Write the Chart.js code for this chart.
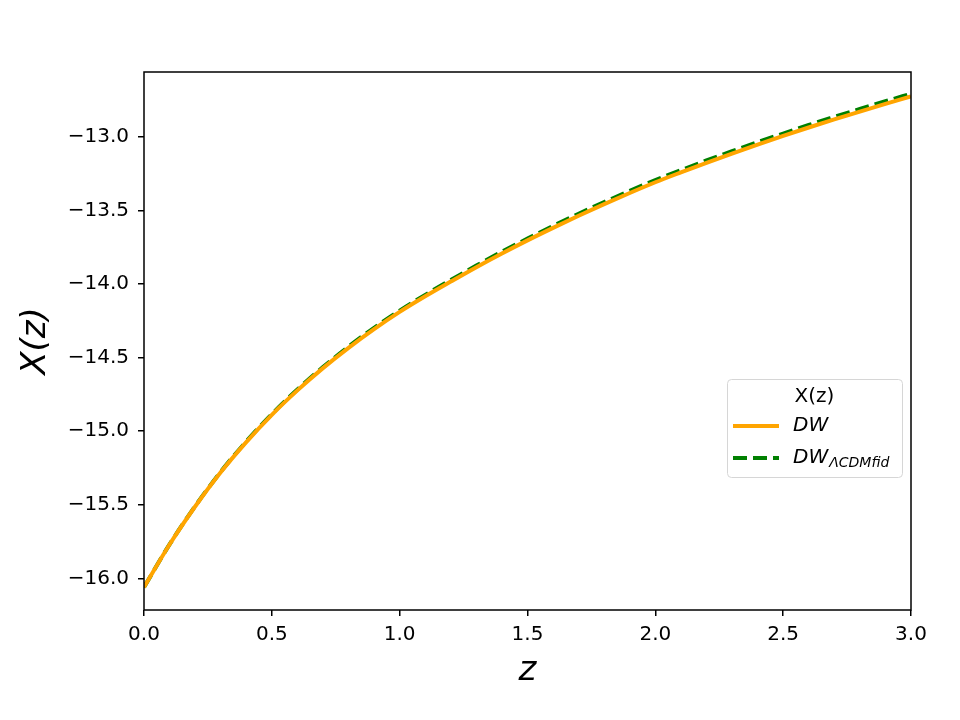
<!DOCTYPE html>
<html>
<head>
<meta charset="utf-8">
<script src="https://cdn.jsdelivr.net/npm/chart.js@4.4.0/dist/chart.umd.min.js"></script>
<style>
  html, body { margin:0; padding:0; background:#fff; }
  #wrap { width:960px; height:720px; }
</style>
</head>
<body>
<div id="wrap"><canvas id="chartX" width="960" height="720"></canvas></div>
<script>
// valores
const zVals = [0.0,0.1,0.2,0.3,0.4,0.5,0.6,0.7,0.8,0.9,1.0,1.1,1.2,1.3,1.4,1.5,
  1.6,1.7,1.8,1.9,2.0,2.1,2.2,2.3,2.4,2.5,2.6,2.7,2.8,2.9,3.0];
const xDW = [-16.060,-15.770,-15.512,-15.279,-15.074,-14.889,-14.723,-14.572,-14.434,-14.307,
  -14.190,-14.084,-13.984,-13.886,-13.793,-13.704,-13.619,-13.537,-13.458,-13.382,-13.309,
  -13.242,-13.177,-13.114,-13.053,-12.994,-12.937,-12.882,-12.829,-12.777,-12.726];
const xFid = [-16.060,-15.769,-15.510,-15.276,-15.070,-14.884,-14.717,-14.565,-14.426,-14.298,
  -14.181,-14.074,-13.973,-13.875,-13.781,-13.692,-13.606,-13.523,-13.444,-13.367,-13.295,
  -13.227,-13.161,-13.098,-13.037,-12.978,-12.920,-12.865,-12.811,-12.759,-12.708];
const xTicks = [0.0,0.5,1.0,1.5,2.0,2.5,3.0];
const yTicks = [-16.0,-15.5,-15.0,-14.5,-14.0,-13.5,-13.0];
const seriesNames = ["DW", "DW_fid"];
const legendTitle = "X(z)";

const FONT = "'DejaVu Sans', sans-serif";

function fmt(v){
  const s = Math.abs(v).toFixed(1);
  return v < 0 ? "\u2212" + s : s;
}

// marco completo del area
const framePlugin = {
  id:"frame",
  afterDatasetsDraw(chart){
    const {ctx, chartArea:a} = chart;
    ctx.save();
    ctx.strokeStyle = "#000";
    ctx.lineWidth = 1.5;
    ctx.strokeRect(a.left, a.top, a.right-a.left, a.bottom-a.top);
    ctx.restore();
  }
};

// leyenda estilo matplotlib dentro del grafico
const legendPlugin = {
  id:"mplLegend",
  afterDraw(chart){
    const ctx = chart.ctx;
    const bx = 727, by = 379, bw = 175, bh = 98;
    ctx.save();
    ctx.fillStyle = "rgba(255,255,255,0.8)";
    ctx.strokeStyle = "#d6d6d6";
    ctx.lineWidth = 1;
    ctx.beginPath();
    ctx.roundRect(bx+0.5, by+0.5, bw, bh, 4);
    ctx.fill();
    ctx.stroke();

    ctx.fillStyle = "#000";
    ctx.textBaseline = "middle";
    ctx.textAlign = "center";
    ctx.font = "20px " + FONT;
    ctx.fillText(legendTitle, bx + bw/2, 397);

    const rows = [426, 458];
    chart.data.datasets.forEach((ds, i)=>{
      const y = rows[i];
      ctx.strokeStyle = ds.borderColor;
      ctx.lineWidth = ds.borderWidth;
      ctx.setLineDash(ds.borderDash || []);
      ctx.beginPath();
      ctx.moveTo(733, y);
      ctx.lineTo(779, y);
      ctx.stroke();
      ctx.setLineDash([]);
      ctx.textAlign = "left";
      ctx.fillStyle = "#000";
      ctx.font = "italic 20px " + FONT;
      ctx.fillText("DW", 793, y);
      if(i === 1){
        const w = ctx.measureText("DW").width;
        ctx.font = "italic 14px " + FONT;
        ctx.fillText("\u039BCDMfid", 793 + w + 1, y + 5);
      }
    });
    ctx.restore();
  }
};

const ctx = document.getElementById("chartX").getContext("2d");
new Chart(ctx, {
  type:"line",
  data:{
    datasets:[
      {
        label: seriesNames[0],
        data: zVals.map((z,i)=>({x:z, y:xDW[i]})),
        borderColor:"#FFA500",
        borderWidth:4,
        pointRadius:0,
        cubicInterpolationMode:"monotone",
        fill:false
      },
      {
        label: seriesNames[1],
        data: zVals.map((z,i)=>({x:z, y:xFid[i]})),
        borderColor:"#008000",
        borderWidth:4,
        borderDash:[14,6],
        pointRadius:0,
        cubicInterpolationMode:"monotone",
        fill:false
      }
    ]
  },
  options:{
    responsive:false,
    animation:false,
    layout:{ padding:{ top:72, right:49, left:0, bottom:0 } },
    plugins:{
      legend:{ display:false },
      tooltip:{ enabled:false }
    },
    scales:{
      x:{
        type:"linear",
        min:0, max:3,
        afterFit(s){ s.height = 110; },
        afterBuildTicks(s){ s.ticks = xTicks.map(v=>({value:v})); },
        border:{ display:false },
        grid:{ drawOnChartArea:false, drawTicks:true, tickLength:6, color:"#000", lineWidth:1.5 },
        ticks:{ color:"#000", font:{ family:FONT, size:20 }, padding:7, maxRotation:0,
          callback:(v)=>fmt(v) },
        title:{ display:true, text:"z", color:"#000",
          font:{ family:FONT, size:34, style:"italic" }, padding:{ top:0, bottom:28 } }
      },
      y:{
        type:"linear",
        min:-16.215, max:-12.56,
        afterFit(s){ s.width = 144; },
        afterBuildTicks(s){ s.ticks = yTicks.map(v=>({value:v})); },
        border:{ display:false },
        grid:{ drawOnChartArea:false, drawTicks:true, tickLength:6, color:"#000", lineWidth:1.5 },
        ticks:{ color:"#000", font:{ family:FONT, size:20 }, padding:9,
          callback:(v)=>fmt(v) },
        title:{ display:true, text:"X(z)", color:"#000",
          font:{ family:FONT, size:34, style:"italic" }, padding:{ top:16, bottom:0 } }
      }
    }
  },
  plugins:[framePlugin, legendPlugin]
});
</script>
</body>
</html>
